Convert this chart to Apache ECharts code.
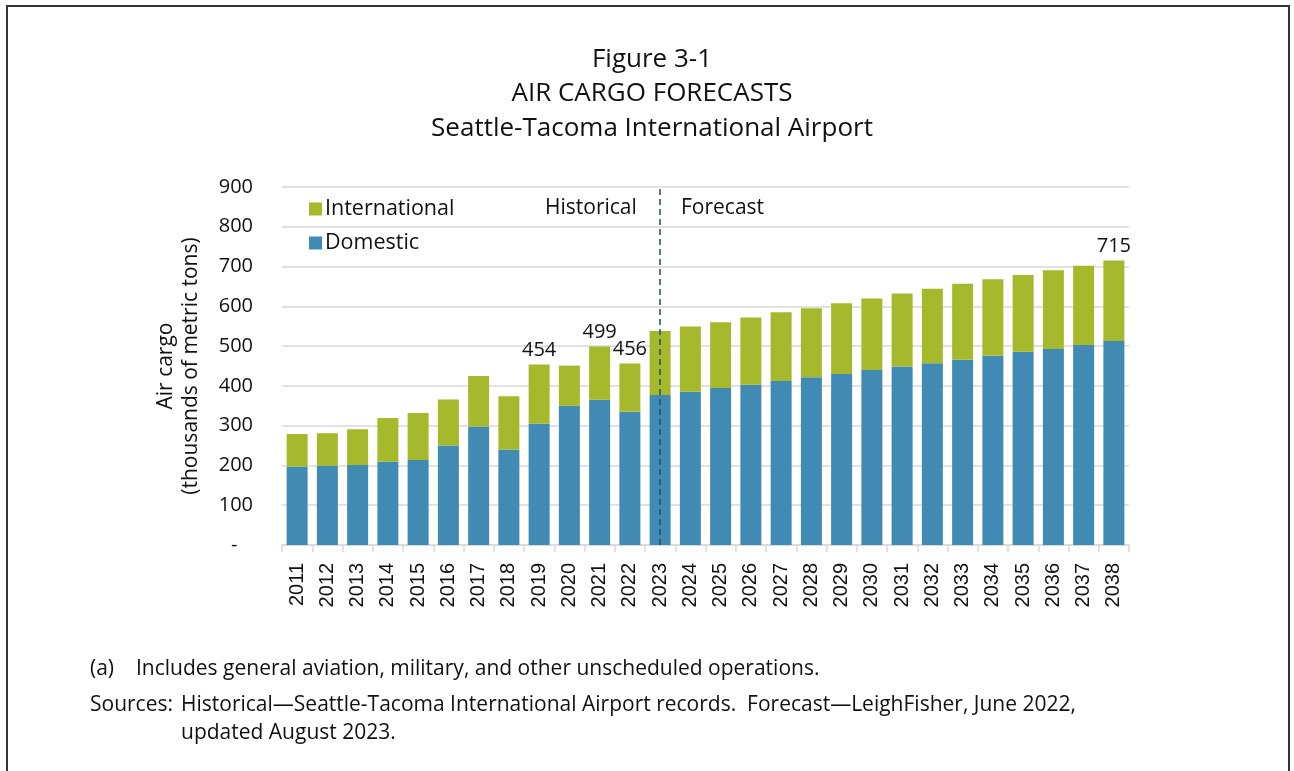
<!DOCTYPE html>
<html lang="en">
<head>
    <meta charset="UTF-8">
    <title>Air Cargo Forecasts</title>
    <script src="https://cdn.jsdelivr.net/npm/echarts@6/dist/echarts.min.js"></script>
    <style>
        html, body { margin: 0; padding: 0; background: #fff; }
        #chart { width: 1294px; height: 771px; }
    </style>
</head>
<body>
    <div id="chart"></div>
    <script>
        // data, thousands of metric tons
        var years = ['2011', '2012', '2013', '2014', '2015', '2016', '2017', '2018', '2019', '2020',
            '2021', '2022', '2023', '2024', '2025', '2026', '2027', '2028', '2029', '2030',
            '2031', '2032', '2033', '2034', '2035', '2036', '2037', '2038'];
        var domestic = [197, 199, 201, 209, 214, 250, 297, 240, 305, 350,
            365, 335, 377, 385, 395, 403, 412, 422, 430, 440,
            449, 457, 466, 476, 486, 493, 503, 513];
        var international = [82, 82, 90, 110, 118, 116, 128, 134, 149, 101,
            134, 121, 161, 164, 165, 169, 173, 173, 178, 180,
            183, 187, 191, 192, 193, 198, 199, 202];
        var labelledYears = ['2019', '2021', '2022', '2038'];

        var font = '"Open Sans", "Noto Sans", sans-serif';
        var green = '#A6B82B';
        var blue = '#418AB4';
        var grey = '#D9D9D9';

        var chart = echarts.init(document.getElementById('chart'));

        var option = {
            backgroundColor: '#fff',
            animation: false,
            title: {
                text: 'Figure 3-1\nAIR CARGO FORECASTS\nSeattle-Tacoma International Airport',
                left: 647,
                top: 37,
                textAlign: 'center',
                textStyle: { fontFamily: font, fontSize: 26, fontWeight: 'normal', color: '#111', lineHeight: 34.5 }
            },
            legend: {
                orient: 'vertical',
                left: 304,
                top: 193,
                itemWidth: 13,
                itemHeight: 13,
                itemGap: 12,
                icon: 'rect',
                data: ['International', 'Domestic'],
                textStyle: { fontFamily: font, fontSize: 21.5, color: '#111', padding: [0, 0, 0, -2] }
            },
            grid: { left: 282, right: 165, top: 187, bottom: 226 },
            xAxis: {
                type: 'category',
                data: years,
                axisLine: { lineStyle: { color: grey, width: 1.5 } },
                axisTick: { show: true, length: 7, lineStyle: { color: grey, width: 1.5 } },
                axisLabel: { rotate: 90, margin: 18, fontFamily: 'Liberation Sans, Arial, sans-serif', fontSize: 20, color: '#111' }
            },
            yAxis: {
                type: 'value',
                min: 0,
                max: 900,
                interval: 100,
                name: 'Air cargo\n(thousands of metric tons)',
                nameLocation: 'middle',
                nameGap: 78,
                nameRotate: 90,
                nameTextStyle: { fontFamily: font, fontSize: 21, color: '#111', lineHeight: 25 },
                axisLine: { show: false },
                axisTick: { show: false },
                axisLabel: {
                    margin: 29,
                    fontFamily: font,
                    fontSize: 20,
                    color: '#111',
                    formatter: function (v) { return v === 0 ? '-   ' : String(v); }
                },
                splitLine: { lineStyle: { color: grey, width: 1.5 } }
            },
            series: [
                {
                    name: 'Domestic',
                    type: 'bar',
                    stack: 'cargo',
                    barWidth: 21,
                    itemStyle: { color: blue },
                    data: domestic,
                    markLine: {
                        silent: true,
                        symbol: 'none',
                        label: { show: false },
                        lineStyle: { color: '#1F4E6E', type: [6, 4], width: 1.5 },
                        data: [{ xAxis: '2023' }]
                    }
                },
                {
                    name: 'International',
                    type: 'bar',
                    stack: 'cargo',
                    barWidth: 21,
                    itemStyle: { color: green },
                    data: international,
                    label: {
                        show: true,
                        position: 'top',
                        distance: 4,
                        fontFamily: font,
                        fontSize: 20,
                        color: '#111',
                        formatter: function (p) {
                            if (labelledYears.indexOf(p.name) < 0) return '';
                            return String(domestic[p.dataIndex] + international[p.dataIndex]);
                        }
                    }
                }
            ],
            graphic: [
                {
                    type: 'rect',
                    shape: { x: 7, y: 6, width: 1282, height: 820 },
                    style: { fill: 'none', stroke: '#333', lineWidth: 2 },
                    silent: true
                },
                {
                    type: 'text', left: 545, top: 198,
                    style: { text: 'Historical', fontFamily: font, fontSize: 21, fill: '#111' }
                },
                {
                    type: 'text', left: 681, top: 198,
                    style: { text: 'Forecast', fontFamily: font, fontSize: 21, fill: '#111' }
                },
                {
                    type: 'text', left: 90, top: 659,
                    style: { text: '(a)', fontFamily: font, fontSize: 21, fill: '#111' }
                },
                {
                    type: 'text', left: 136, top: 659,
                    style: { text: 'Includes general aviation, military, and other unscheduled operations.', fontFamily: font, fontSize: 21, fill: '#111' }
                },
                {
                    type: 'text', left: 90, top: 695,
                    style: { text: 'Sources:', fontFamily: font, fontSize: 21, fill: '#111' }
                },
                {
                    type: 'text', left: 181, top: 695,
                    style: { text: 'Historical\u2014Seattle-Tacoma International Airport records.  Forecast\u2014LeighFisher, June 2022,', fontFamily: font, fontSize: 21, fill: '#111' }
                },
                {
                    type: 'text', left: 181, top: 723,
                    style: { text: 'updated August 2023.', fontFamily: font, fontSize: 21, fill: '#111' }
                }
            ]
        };

        chart.setOption(option);
    </script>
</body>
</html>
